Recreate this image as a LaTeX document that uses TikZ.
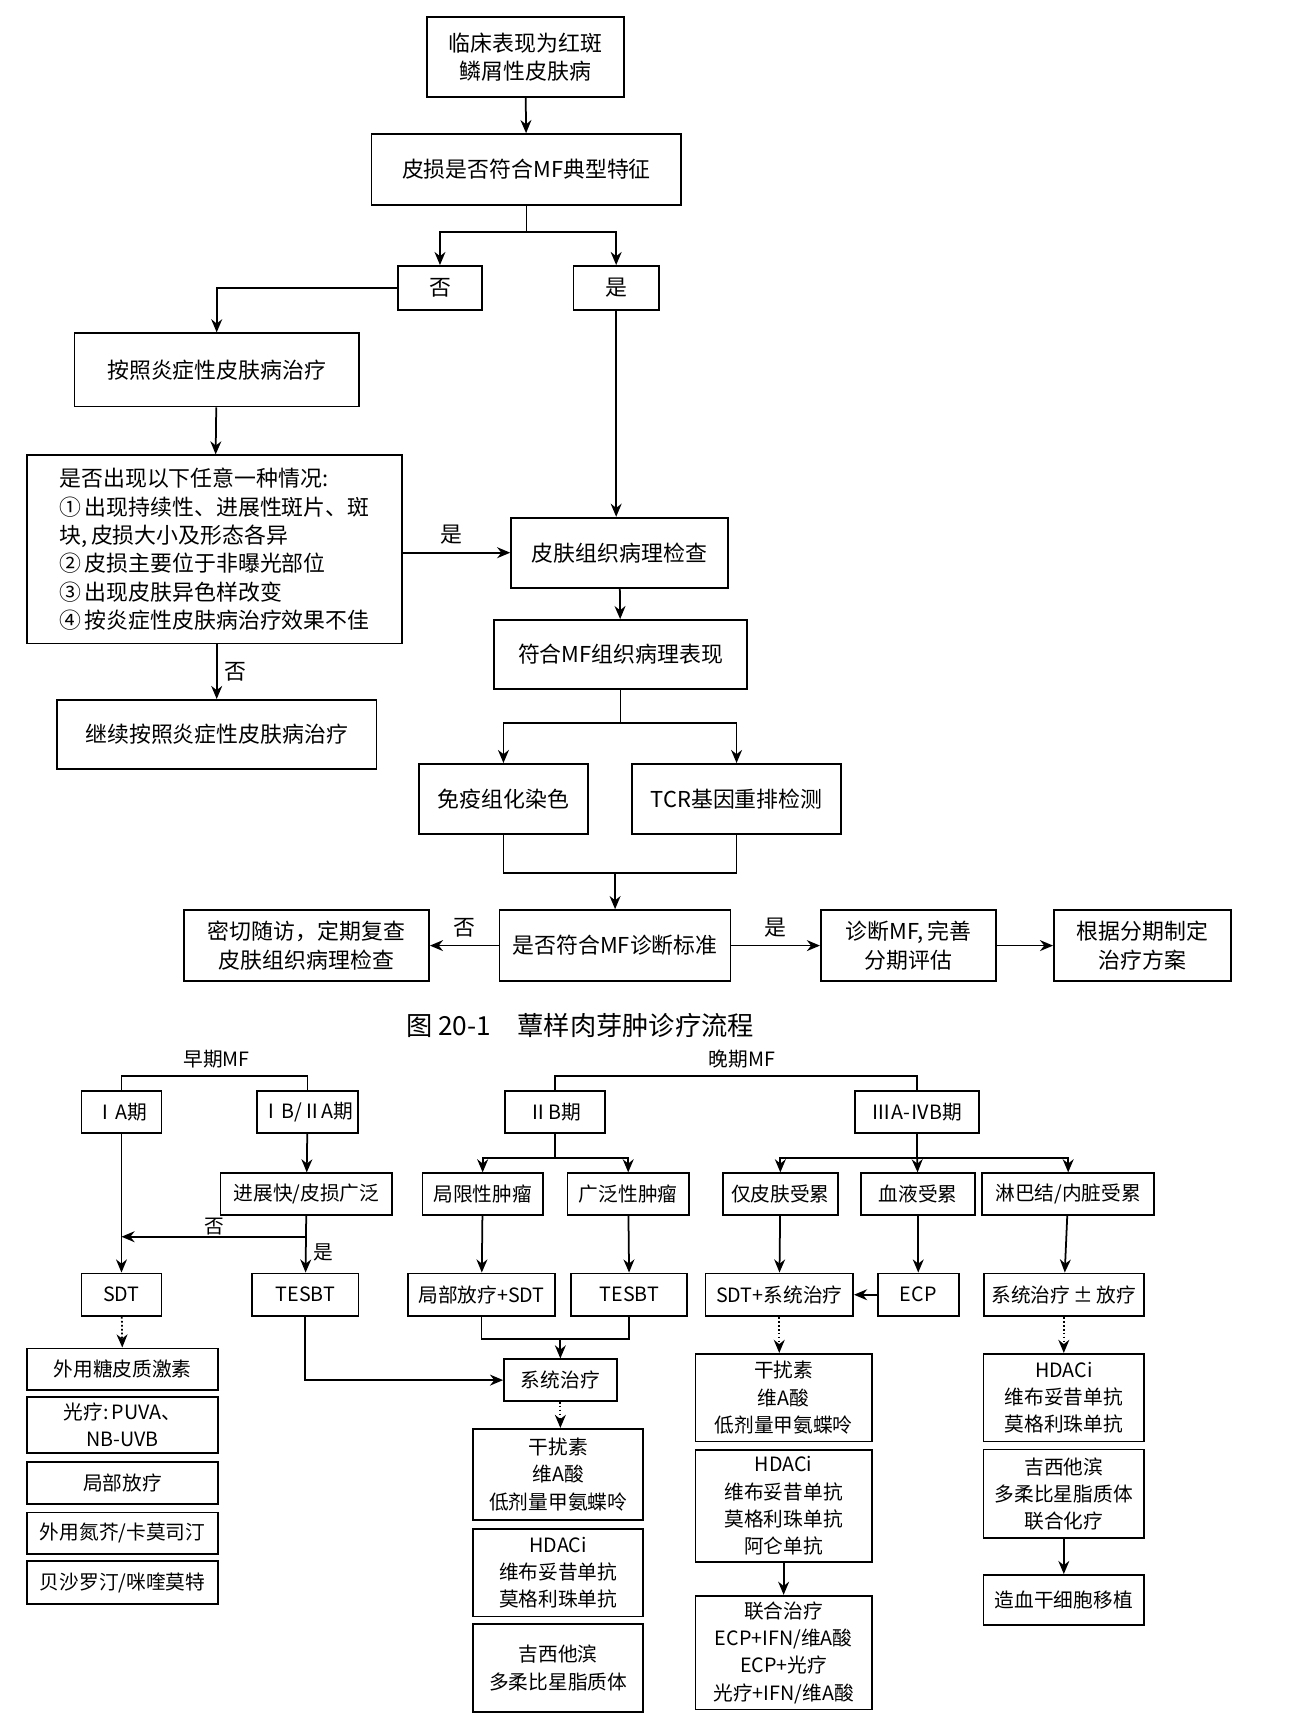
\documentclass[tikz,border=0pt]{standalone}
\usepackage{fontspec}
\setmainfont{Noto Sans CJK SC}
\setsansfont{Noto Sans CJK SC}
\usetikzlibrary{arrows.meta}
\begin{document}
\begin{tikzpicture}[x=0.5pt, y=-0.5pt,
	box/.style 2 args={draw, line width=0.8pt, minimum width=#1*0.5pt, minimum height=#2*0.5pt, inner sep=1pt, align=center, font=\fontsize{10}{13}\selectfont},
	sbox/.style 2 args={box={#1}{#2}, font=\fontsize{9}{12.5}\selectfont},
	arr/.style={-{Stealth[length=6pt,width=5pt]}, line width=0.8pt},
	ln/.style={line width=0.8pt},
	dots/.style={-{Stealth[length=6pt,width=5pt]}, line width=0.8pt, densely dotted},
	lab/.style={font=\fontsize{10}{12}\selectfont}]
	\useasboundingbox (0,0) rectangle (1182,1567);

	% upper flow
	\node[box={180}{73}] (clin) at (480,52) {临床表现为红斑\\鳞屑性皮肤病};
	\node[box={283}{65}] (typ) at (481,155) {皮损是否符合MF典型特征};
	\node[box={77}{40}] (no) at (402,263) {否};
	\node[box={78}{40}] (yes) at (563,263) {是};
	\node[box={260}{67}] (infl) at (198,338) {按照炎症性皮肤病治疗};
	\node[box={342}{172}, align=left] (cond) at (196,502) {是否出现以下任意一种情况:\\①\,出现持续性、进展性斑片、斑\\块,\,皮损大小及形态各异\\②\,皮损主要位于非曝光部位\\③\,出现皮肤异色样改变\\④\,按炎症性皮肤病治疗效果不佳};
	\node[box={292}{63}] (cont) at (198,671) {继续按照炎症性皮肤病治疗};
	\node[box={198}{64}] (biop) at (566,505) {皮肤组织病理检查};
	\node[box={231}{63}] (histo) at (567,598) {符合MF组织病理表现};
	\node[box={155}{64}] (ihc) at (460,730) {免疫组化染色};
	\node[box={191}{64}] (tcr) at (673,730) {TCR基因重排检测};
	\node[box={211}{65}] (crit) at (562,864) {是否符合MF诊断标准};
	\node[box={224}{65}] (follow) at (280,864) {密切随访，定期复查\\皮肤组织病理检查};
	\node[box={160}{65}] (diag) at (830,864) {诊断MF,\,完善\\分期评估};
	\node[box={162}{65}] (plan) at (1044,864) {根据分期制定\\治疗方案};
	\node[font=\fontsize{12}{14}\selectfont] (cap) at (530,937) {图 20-1\quad 蕈样肉芽肿诊疗流程};

	\draw[arr] (clin) -- (typ);
	\draw[ln] (typ.south) -- ++(0,24) coordinate (j1);
	\draw[arr] (j1) -| (no);
	\draw[arr] (j1) -| (yes);
	\draw[arr] (no.west) -| (infl.north);
	\draw[arr] (infl) -- (cond);
	\draw[arr] (cond.south -| cont.north) -- node[lab, right] {否} (cont.north);
	\draw[arr] (cond.east |- biop.west) -- node[lab, above, pos=0.45] {是} (biop.west);
	\draw[arr] (yes.south) -- (biop.north -| yes.south);
	\draw[arr] (biop) -- (histo);
	\draw[ln] (histo.south) -- ++(0,30) coordinate (j2);
	\draw[arr] (j2) -| (ihc);
	\draw[arr] (j2) -| (tcr);
	\draw[ln] (ihc.south) -- ++(0,35) coordinate (j3) -| (tcr.south);
	\draw[arr] (j3 -| crit.north) -- (crit.north);
	\draw[arr] (crit) -- node[lab, above] {否} (follow);
	\draw[arr] (crit) -- node[lab, above] {是} (diag);
	\draw[arr] (diag) -- (plan);

	% lower flow
	\node[font=\sffamily\fontsize{9}{11}\selectfont] (early) at (198,968) {早期MF};
	\node[font=\sffamily\fontsize{9}{11}\selectfont] (late) at (678,968) {晚期MF};
	\node[sbox={73}{38}] (s1a) at (111,1016) {ⅠA期};
	\node[sbox={92}{38}] (s1b) at (281,1016) {ⅠB/ⅡA期};
	\node[sbox={91}{38}] (s2b) at (507,1016) {ⅡB期};
	\node[sbox={113}{38}] (s3a) at (838,1016) {ⅢA-ⅣB期};
	\node[sbox={157}{38}] (fast) at (280,1091) {进展快/皮损广泛};
	\node[sbox={110}{38}] (loc) at (441,1091) {局限性肿瘤};
	\node[sbox={111}{38}] (wide) at (574,1091) {广泛性肿瘤};
	\node[sbox={105}{38}] (skin) at (713,1091) {仅皮肤受累};
	\node[sbox={104}{38}] (blood) at (839,1091) {血液受累};
	\node[sbox={157}{38}] (lymph) at (976,1091) {淋巴结/内脏受累};
	\node[sbox={73}{39}] (sdt) at (111,1183) {SDT};
	\node[sbox={97}{39}] (tes1) at (279,1183) {TESBT};
	\node[sbox={134}{39}] (locsdt) at (440,1183) {局部放疗+SDT};
	\node[sbox={106}{39}] (tes2) at (575,1183) {TESBT};
	\node[sbox={135}{39}] (sdtsys) at (712,1183) {SDT+系统治疗};
	\node[sbox={74}{39}] (ecp) at (839,1183) {ECP};
	\node[sbox={146}{39}] (sysrt) at (972,1183) {系统治疗\,±\,放疗};
	\node[sbox={103}{38}] (sys) at (512,1261) {系统治疗};

	\node[sbox={175}{38}] (l1) at (112,1251) {外用糖皮质激素};
	\node[sbox={175}{51}] (l2) at (112,1302) {光疗:\,PUVA、\\NB-UVB};
	\node[sbox={175}{38}] (l3) at (112,1355) {局部放疗};
	\node[sbox={175}{38}] (l4) at (112,1401) {外用氮芥/卡莫司汀};
	\node[sbox={175}{39}] (l5) at (112,1446) {贝沙罗汀/咪喹莫特};
	\node[sbox={155}{83}] (m1) at (510,1347) {干扰素\\维A酸\\低剂量甲氨蝶呤};
	\node[sbox={155}{80}] (m2) at (510,1437) {HDACi\\维布妥昔单抗\\莫格利珠单抗};
	\node[sbox={155}{81}] (m3) at (510,1524) {吉西他滨\\多柔比星脂质体};
	\node[sbox={161}{80}] (r1) at (716,1277) {干扰素\\维A酸\\低剂量甲氨蝶呤};
	\node[sbox={161}{102}] (r2) at (716,1376) {HDACi\\维布妥昔单抗\\莫格利珠单抗\\阿仑单抗};
	\node[sbox={161}{104}] (r3) at (716,1510) {联合治疗\\ECP+IFN/维A酸\\ECP+光疗\\光疗+IFN/维A酸};
	\node[sbox={147}{80}] (f1) at (972,1277) {HDACi\\维布妥昔单抗\\莫格利珠单抗};
	\node[sbox={147}{81}] (f2) at (972,1365) {吉西他滨\\多柔比星脂质体\\联合化疗};
	\node[sbox={147}{46}] (f3) at (972,1462) {造血干细胞移植};

	\draw[ln] (s1a.north) |- (early.south) -| (s1b.north);
	\draw[ln] (s2b.north) |- (late.south) -| (s3a.north);
	\draw[arr] (s1b) -- (fast);
	\draw[ln] (s2b.south) -- ++(0,22) coordinate (k1);
	\draw[arr] (k1) -| (loc);
	\draw[arr] (k1) -| (wide);
	\draw[ln] (s3a.south) -- ++(0,22) coordinate (k2);
	\draw[arr] (k2) -| (skin);
	\draw[arr] (k2) -- (blood);
	\draw[arr] (k2) -| (lymph);
	\draw[arr] (s1a) -- (sdt);
	\draw[arr] (fast) -- node[lab, right, pos=0.65, font=\fontsize{9}{11}\selectfont] {是} (tes1);
	\draw[arr] (fast.south |- 0,1130) coordinate (k3) -- node[lab, above, inner sep=0.5pt, font=\fontsize{9}{10}\selectfont] {否} (s1a.south |- k3);
	\draw[arr] (loc) -- (locsdt);
	\draw[arr] (wide) -- (tes2);
	\draw[arr] (skin) -- (sdtsys);
	\draw[arr] (blood) -- (ecp);
	\draw[arr] (ecp) -- (sdtsys);
	\draw[arr] (lymph) -- (sysrt);
	\draw[ln] (locsdt.south) -- ++(0,20) coordinate (k4) -| (tes2.south);
	\draw[arr] (k4 -| sys.north) -- (sys.north);
	\draw[arr] (tes1.south) |- (sys.west);
	\draw[dots] (sdt) -- (l1);
	\draw[dots] (sys) -- (sys |- m1.north);
	\draw[dots] (sdtsys) -- (sdtsys |- r1.north);
	\draw[dots] (sysrt) -- (f1);
	\draw[arr] (r2) -- (r3);
	\draw[arr] (f2) -- (f3);
\end{tikzpicture}
\end{document}
